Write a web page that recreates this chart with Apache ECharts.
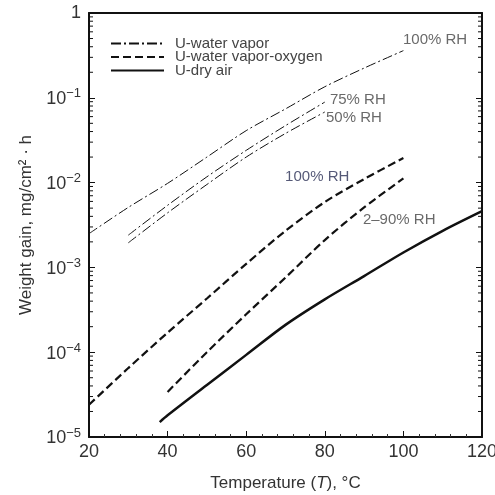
<!DOCTYPE html>
<html>
<head>
<meta charset="utf-8">
<script src="https://cdn.jsdelivr.net/npm/echarts@6/dist/echarts.min.js"></script>
<style>
  html, body { margin: 0; background: #fff; }
  #chart { width: 495px; height: 495px; }
</style>
</head>
<body>
<div id="chart"></div>
<script>
/* Weight gain vs temperature — log scale */

// temperatures (°C)
const tVapor100 = [20, 30, 40, 50, 60, 70, 80, 90, 100];
const tVaporPart = [30, 40, 50, 60, 70, 80];
const tOxy100 = [20, 30, 40, 50, 60, 70, 80, 90, 100];
const tOxyPart = [40, 50, 60, 70, 80, 90, 100];
const tDryAir = [38, 40, 50, 60, 70, 80, 90, 100, 110, 120];

// weight gain (mg/cm²·h)
const vapor100 = [2.5e-3, 5.1e-3, 9.8e-3, 0.020, 0.041, 0.074, 0.135, 0.224, 0.36];
const vapor75 = [2.4e-3, 5.4e-3, 0.0117, 0.024, 0.047, 0.089];
const vapor50 = [1.95e-3, 4.4e-3, 9.5e-3, 0.020, 0.038, 0.068];
const oxy100 = [2.4e-5, 6.5e-5, 1.7e-4, 4.3e-4, 1.1e-3, 2.7e-3, 5.9e-3, 0.011, 0.0195];
const oxy2to90 = [3.4e-5, 1.0e-4, 2.8e-4, 7.6e-4, 2.1e-3, 5.1e-3, 0.0112];
const dryAir = [1.5e-5, 1.8e-5, 4.1e-5, 9.3e-5, 2.1e-4, 4.2e-4, 7.9e-4, 1.5e-3, 2.7e-3, 4.6e-3];

// curve annotations (left edge of text, in data coords)
const noteText = ["100% RH", "75% RH", "50% RH", "100% RH", "2\u201390% RH"];
const noteT = [99.9, 81.3, 80.3, 69.9, 89.7];
const noteW = [0.48, 0.094, 0.058, 0.0116, 3.6e-3];
const noteColor = ["#444", "#444", "#444", "#2a2f55", "#444"];

// y tick labels: exponent of 10 for each decade
const yTickExp = { "1": "", "0.1": "1", "0.01": "2", "0.001": "3", "0.0001": "4", "0.00001": "5" };

function pairs(xs, ys) { return xs.map((x, i) => [x, ys[i]]); }

// minor log ticks 2..9 × 10^n
const minorLog = [];
for (let e = -5; e < 0; e++) {
  for (let m = 2; m <= 9; m++) minorLog.push(m * Math.pow(10, e));
}

const chart = echarts.init(document.getElementById("chart"));
const ink = "#111";
const dashDot = [10, 3, 2, 3];
const dash = [8, 4];

function lineSeries(name, data, type, width) {
  return {
    name, type: "line", data, symbol: "none", smooth: 0.3,
    lineStyle: { color: ink, width, type },
    itemStyle: { color: ink },
    silent: true, z: 3
  };
}

chart.setOption({
  animation: false,
  backgroundColor: "#fff",
  textStyle: { fontFamily: "Liberation Sans, Arial, sans-serif" },
  grid: { left: 89, right: 13, top: 13, bottom: 58, containLabel: false, outerBoundsMode: "none" },
  legend: {
    data: ["U-water vapor", "U-water vapor-oxygen", "U-dry air"],
    orient: "vertical", left: 110, top: 36, padding: 0,
    itemWidth: 53, itemHeight: 8, itemGap: -1.5,
    selectedMode: false,
    itemStyle: { opacity: 0 },
    textStyle: { fontSize: 15, color: "#444", padding: [0, 0, 0, 6] }
  },
  xAxis: [{
    type: "value", min: 20, max: 120, interval: 20,
    axisLine: { lineStyle: { color: ink, width: 2 } },
    axisTick: { inside: true, length: 6, lineStyle: { color: ink } },
    minorTick: { show: true, splitNumber: 5, length: 3, lineStyle: { color: "#333" } },
    splitLine: { show: false },
    axisLabel: { color: "#333", fontSize: 18, margin: 6 },
    name: "Temperature ({i|T}), \u00b0C",
    nameLocation: "middle", nameGap: 38,
    nameTextStyle: { color: "#333", fontSize: 17, rich: { i: { fontStyle: "italic", fontSize: 17, color: "#333" } } }
  }, {
    type: "value", min: 20, max: 120, position: "top",
    axisLine: { lineStyle: { color: ink, width: 2 } },
    axisTick: { show: false }, axisLabel: { show: false }, splitLine: { show: false }
  }],
  yAxis: [{
    type: "log", logBase: 10, min: 1e-5, max: 1,
    axisLine: { show: true, lineStyle: { color: ink, width: 2 } },
    axisTick: { inside: true, length: 6, lineStyle: { color: ink } },
    splitLine: { show: false },
    axisLabel: {
      color: "#333", fontSize: 18, margin: 8,
      formatter: v => {
        const e = yTickExp[String(+v.toPrecision(3))];
        if (e === undefined) return "";
        return e === "" ? "{b|1}" : "{b|10}{s|\u2212" + e + "}";
      },
      rich: {
        b: { fontSize: 18, color: "#333", verticalAlign: "bottom" },
        s: { fontSize: 13, color: "#333", verticalAlign: "bottom", padding: [0, 0, 8, 0] }
      }
    },
    name: "Weight gain, mg/cm\u00b2 \u00b7 h",
    nameLocation: "middle", nameGap: 53, nameRotate: 90,
    nameTextStyle: { color: "#333", fontSize: 17 }
  }, {
    type: "log", logBase: 10, min: 1e-5, max: 1, position: "right",
    axisLine: { show: true, lineStyle: { color: ink, width: 2 } },
    axisTick: { inside: true, length: 6, lineStyle: { color: ink } },
    axisLabel: { show: false }, splitLine: { show: false }
  }],
  series: [
    lineSeries("U-water vapor", pairs(tVapor100, vapor100), dashDot, 1),
    lineSeries("U-water vapor", pairs(tVaporPart, vapor75), dashDot, 1),
    lineSeries("U-water vapor", pairs(tVaporPart, vapor50), dashDot, 1),
    lineSeries("U-water vapor-oxygen", pairs(tOxy100, oxy100), dash, 2.2),
    lineSeries("U-water vapor-oxygen", pairs(tOxyPart, oxy2to90), dash, 2.2),
    lineSeries("U-dry air", pairs(tDryAir, dryAir), "solid", 2.5),
    {
      // minor log ticks on left and right frame
      type: "custom", silent: true, z: 4, clip: false,
      data: minorLog.map(v => [20, v]),
      renderItem: (params, api) => {
        const cs = params.coordSys;
        const y = api.coord([20, api.value(1)])[1];
        const st = { stroke: ink, lineWidth: 1 };
        return { type: "group", children: [
          { type: "line", shape: { x1: cs.x, y1: y, x2: cs.x + 4, y2: y }, style: st },
          { type: "line", shape: { x1: cs.x + cs.width, y1: y, x2: cs.x + cs.width - 4, y2: y }, style: st }
        ] };
      }
    },
    {
      type: "scatter", silent: true, symbolSize: 0, z: 5,
      data: noteText.map((t, i) => ({
        value: [noteT[i], noteW[i]],
        label: { show: true, formatter: t, position: "right", distance: 0,
                 color: noteColor[i], fontSize: 15 }
      }))
    }
  ]
});
</script>
</body>
</html>
